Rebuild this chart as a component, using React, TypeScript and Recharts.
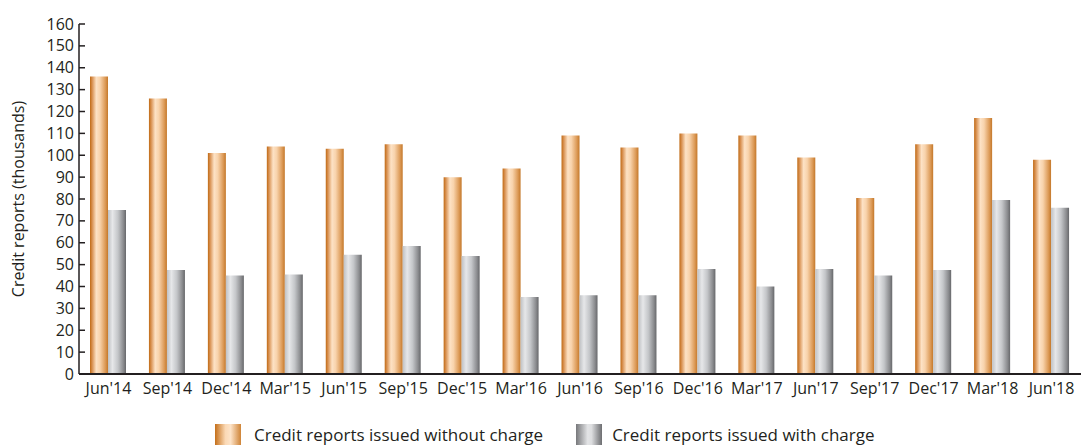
import React from "react";
import { BarChart, Bar, XAxis, YAxis, Legend } from "recharts";

const periodos = [
  "Jun'14", "Sep'14", "Dec'14", "Mar'15", "Jun'15", "Sep'15", "Dec'15", "Mar'16", "Jun'16",
  "Sep'16", "Dec'16", "Mar'17", "Jun'17", "Sep'17", "Dec'17", "Mar'18", "Jun'18",
];
const sinCargo = [136, 126, 101, 104, 103, 105, 90, 94, 109, 103.5, 110, 109, 99, 80.5, 105, 117, 98];
const conCargo = [75, 47.5, 45, 45.5, 54.5, 58.5, 54, 35.2, 36, 36, 48, 40, 48, 45, 47.5, 79.5, 76];
const yTicks = [0, 10, 20, 30, 40, 50, 60, 70, 80, 90, 100, 110, 120, 130, 140, 150, 160];

const SERIES = [
  { key: "sinCargo", name: "Credit reports issued without charge", fill: "url(#gradNaranja)" },
  { key: "conCargo", name: "Credit reports issued with charge", fill: "url(#gradGris)" },
];

const data = periodos.map((p, i) => ({ periodo: p, sinCargo: sinCargo[i], conCargo: conCargo[i] }));

const FONT = "'Open Sans', sans-serif";
const TEXTO = "#231f20";

function YTick({ x, y, payload }: any) {
  return (
    <g>
      <line x1={x + 5} x2={x + 11} y1={y} y2={y} stroke={TEXTO} strokeWidth={1.5} />
      <text x={x} y={y} dy={5.5} textAnchor="end" fontSize={16} fill={TEXTO} fontFamily={FONT}>
        {payload.value}
      </text>
    </g>
  );
}

function Leyenda() {
  return (
    <div style={{ display: "flex", paddingLeft: 186, paddingTop: 20, fontFamily: FONT }}>
      {SERIES.map((s, i) => (
        <div key={s.key} style={{ display: "flex", alignItems: "center", marginRight: i === 0 ? 33 : 0 }}>
          <svg width={26} height={21} style={{ marginRight: i === 0 ? 13 : 10 }}>
            <rect width={26} height={21} fill={i === 0 ? "url(#gradNaranjaL)" : "url(#gradGrisL)"} />
          </svg>
          <span style={{ fontSize: 17, color: TEXTO, lineHeight: "21px" }}>{s.name}</span>
        </div>
      ))}
    </div>
  );
}

export default function App() {
  return (
    <div style={{ position: "absolute", left: 0, top: 0, width: 1081, height: 445, background: "#fff" }}>
      <svg width={0} height={0} style={{ position: "absolute" }}>
        <defs>
          <linearGradient id="gradNaranjaL" x1="0" x2="1" y1="0" y2="0">
            <stop offset="0%" stopColor="#c46f1a" />
            <stop offset="40%" stopColor="#fbd9b5" />
            <stop offset="60%" stopColor="#fde3c8" />
            <stop offset="100%" stopColor="#cf8437" />
          </linearGradient>
          <linearGradient id="gradGrisL" x1="0" x2="1" y1="0" y2="0">
            <stop offset="0%" stopColor="#77787b" />
            <stop offset="45%" stopColor="#e3e4e6" />
            <stop offset="60%" stopColor="#dcdddf" />
            <stop offset="100%" stopColor="#6d6e71" />
          </linearGradient>
        </defs>
      </svg>
      <BarChart
        width={1081}
        height={445}
        data={data}
        margin={{ top: 24, right: 0, left: 29, bottom: 0 }}
        barGap={0}
        barSize={18}
      >
        <defs>
          <linearGradient id="gradNaranja" x1="0" x2="1" y1="0" y2="0">
            <stop offset="0%" stopColor="#c06a14" />
            <stop offset="12%" stopColor="#d89050" />
            <stop offset="35%" stopColor="#fde2c5" />
            <stop offset="55%" stopColor="#f8d3ac" />
            <stop offset="85%" stopColor="#dc9a57" />
            <stop offset="100%" stopColor="#c4782a" />
          </linearGradient>
          <linearGradient id="gradGris" x1="0" x2="1" y1="0" y2="0">
            <stop offset="0%" stopColor="#bfc1c4" />
            <stop offset="25%" stopColor="#e6e7e9" />
            <stop offset="55%" stopColor="#c4c6c9" />
            <stop offset="85%" stopColor="#8b8c8f" />
            <stop offset="100%" stopColor="#67686b" />
          </linearGradient>
        </defs>
        <XAxis
          dataKey="periodo"
          tickLine={false}
          axisLine={{ stroke: TEXTO, strokeWidth: 2 }}
          interval={0}
          height={30}
          tick={{ fontSize: 16, fill: TEXTO, fontFamily: FONT }}
          tickMargin={3}
        />
        <YAxis
          domain={[0, 160]}
          ticks={yTicks}
          interval={0}
          width={50}
          tickLine={false}
          tickSize={0}
          tickMargin={5}
          axisLine={{ stroke: TEXTO, strokeWidth: 1.5 }}
          tick={<YTick />}
          label={{
            value: "Credit reports (thousands)",
            angle: -90,
            position: "center",
            dx: -36,
            style: { fontSize: 16, fill: TEXTO, fontFamily: FONT, textAnchor: "middle" },
          }}
        />
        <Legend verticalAlign="bottom" height={41} content={<Leyenda />} />
        {SERIES.map((s) => (
          <Bar key={s.key} dataKey={s.key} name={s.name} fill={s.fill} isAnimationActive={false} />
        ))}
      </BarChart>
    </div>
  );
}
